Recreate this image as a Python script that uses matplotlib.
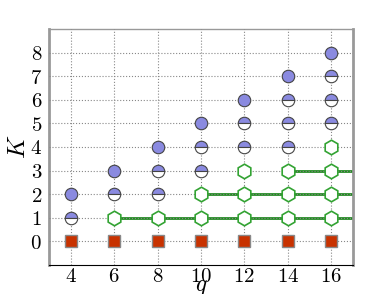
import matplotlib
matplotlib.use("Agg")
import matplotlib.pyplot as plt

plt.rcParams['mathtext.fontset'] = 'cm'
plt.rcParams['font.family'] = 'serif'
plt.rcParams['font.serif'] = ['DejaVu Serif']

# valeurs de q
q_vals = [4, 6, 8, 10, 12, 14, 16]

# K = 0 : carrés rouges
k_carres = [0, 0, 0, 0, 0, 0, 0]

# cercles pleins (un par q)
q_plein = [4, 6, 8, 10, 12, 14, 16]
k_plein = [2, 3, 4, 5, 6, 7, 8]

# demi-cercles
q_demi = [4, 6, 8, 8, 10, 10, 12, 12, 14, 14, 14, 16, 16, 16]
k_demi = [1, 2, 2, 3, 3, 4, 4, 5, 4, 5, 6, 5, 6, 7]

# hexagones verts
q_hex = [6, 8, 10, 12, 14, 16, 10, 12, 14, 16, 12, 14, 16, 16]
k_hex = [1, 1, 1, 1, 1, 1, 2, 2, 2, 2, 3, 3, 3, 4]

# lignes vertes (début en q, jusqu'au bord droit)
lignes_k = [1, 2, 3]
lignes_debut = [6, 10, 14]
q_fin = 17

fig = plt.figure(figsize=(3.92, 2.94), dpi=100)
ax = fig.add_axes([0.125, 0.1, 0.775, 0.8])

for k, d in zip(lignes_k, lignes_debut):
    ax.plot([d, q_fin], [k, k], color='#228b22', lw=2, zorder=2, solid_capstyle='butt')

ax.plot(q_vals, k_carres, ls='none', marker='s', ms=8.5, mfc='#c83200',
        mec='#888888', mew=1, zorder=3)
ax.plot(q_plein, k_plein, ls='none', marker='o', ms=9, mfc='#8a8ae0',
        mec='#444444', mew=0.8, zorder=3)
ax.plot(q_demi, k_demi, ls='none', marker='o', ms=9, fillstyle='top',
        mfc='#8a8ae0', mfcalt='white', mec='#444444', mew=0.8, zorder=3)
ax.plot(q_hex, k_hex, ls='none', marker='h', ms=10.5, mfc='white',
        mec='#33a333', mew=1.2, zorder=3)

ax.set_xlim(3, 17)
ax.set_ylim(-1, 9)
ax.set_xticks(q_vals)
ax.set_xticklabels([f"${v}$" for v in q_vals], fontsize=15)
ax.set_yticks(range(0, 9))
ax.set_yticklabels([f"${v}$" for v in range(0, 9)], fontsize=15)
ax.tick_params(axis='x', length=0, pad=2)
ax.tick_params(axis='y', length=0, pad=5)

ax.grid(True, ls=':', color='#888888', lw=0.8, zorder=4)
ax.set_axisbelow(False)

for s in ['left', 'right']:
    ax.spines[s].set_color('#999999')
    ax.spines[s].set_linewidth(2)
ax.spines['top'].set_color('#999999')
ax.spines['top'].set_linewidth(1)
ax.spines['bottom'].set_color('black')
ax.spines['bottom'].set_linewidth(0.8)

ax.set_xlabel("$q$", fontsize=17, labelpad=-8)
ax.set_ylabel("$K$", fontsize=18, labelpad=0)

fig.savefig("out.png", dpi=100)
